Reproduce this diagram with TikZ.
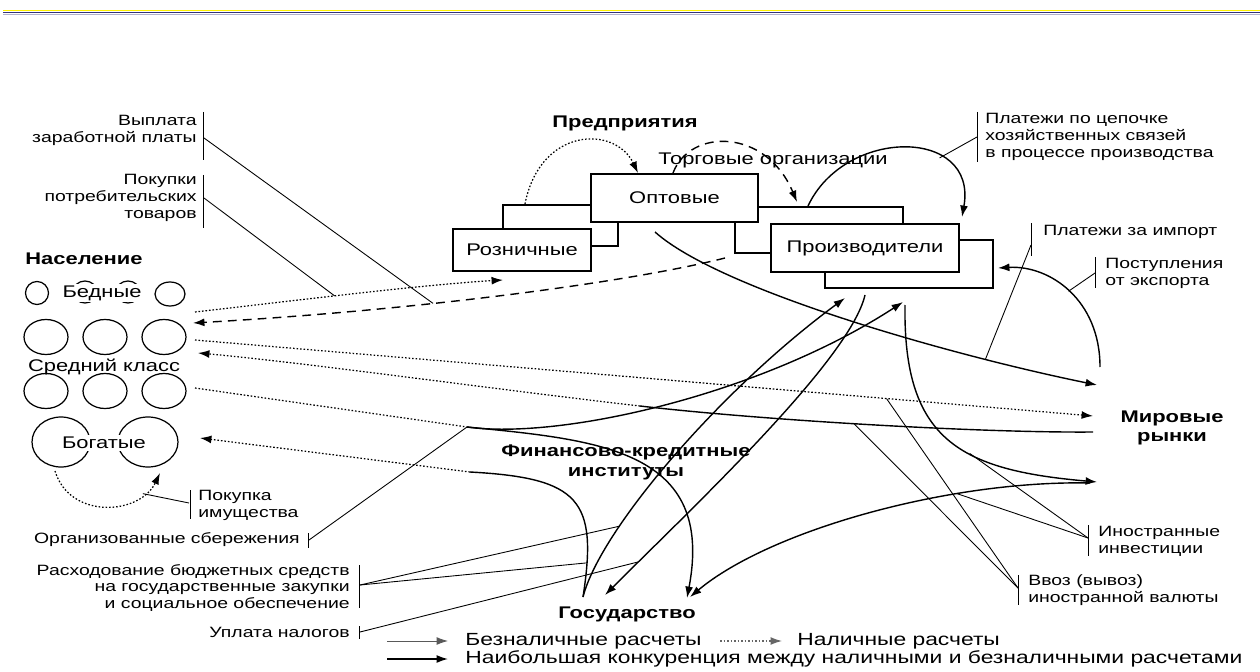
\documentclass[tikz,border=0pt]{standalone}
\usepackage{fontspec}
\setmainfont{Liberation Sans}[FakeStretch=1.3]
\usetikzlibrary{arrows.meta}
\begin{document}
\begin{tikzpicture}[x=0.02cm,y=-0.02cm,
  lbl/.style={font=\fontsize{8.5}{9.6}\selectfont, inner sep=0pt, align=right, anchor=east},
  lbll/.style={font=\fontsize{8.5}{9.6}\selectfont, inner sep=0pt, align=left, anchor=west},
  txt/.style={font=\fontsize{9.6}{11}\selectfont, inner sep=0pt},
  legtxt/.style={font=\fontsize{10}{11}\selectfont, inner sep=0pt, anchor=west},
  head/.style={font=\bfseries\fontsize{9.6}{11.3}\selectfont, inner sep=0pt, align=center},
  box/.style={draw, line width=0.9pt, fill=white, inner sep=0pt, font=\fontsize{9.6}{11}\selectfont},
  conn/.style={line width=0.8pt},
  lthin/.style={line width=0.5pt},
  cash/.style={line width=0.7pt, dash pattern=on 0.9pt off 1.1pt},
  dsh/.style={line width=0.8pt, dash pattern=on 5pt off 3.5pt},
  arr/.style={-{Latex[length=6.5pt,width=4.5pt]}},
  circ/.style={line width=0.7pt},
]
\useasboundingbox (0,0) rectangle (1260,672);
\fill[white] (0,0) rectangle (1260,672);
% top rules
\draw[yellow, line width=0.9pt] (3,10.5) -- (1260,10.5);
\draw[color=black!55!blue!60!gray, line width=0.6pt] (3,12.8) -- (1260,12.8);
\draw[color=blue!20!gray!50, line width=0.7pt] (3,14.3) -- (1260,14.3);

% ---------- enterprises ----------
\node[head] (predpr) at (625,123) {Предприятия};
\node[txt] (torg) at (773,160) {Торговые организации};
\node[box, minimum width=2.30cm, minimum height=0.82cm] (roznb) at (560.5,225.5) {};
\node[box, minimum width=2.76cm, minimum height=0.84cm] (rozn) at (522,250) {Розничные};
\node[box, minimum width=3.36cm, minimum height=0.92cm] (optb) at (819,230) {};
\node[box, minimum width=3.34cm, minimum height=0.96cm] (opt) at (674.5,198) {Оптовые};
\node[box, minimum width=3.36cm, minimum height=0.96cm] (proizvb) at (909,264) {};
\node[box, minimum width=3.76cm, minimum height=0.96cm] (proizv) at (865,248) {Производители};

% ---------- population ----------
\node[head, anchor=west] (naselenie) at (25,259) {Население};
\draw[circ] (37,293) ellipse [x radius=0.23cm, y radius=0.23cm];
\draw[circ] (85,292) ellipse [x radius=0.24cm, y radius=0.22cm];
\draw[circ] (128,292) ellipse [x radius=0.24cm, y radius=0.22cm];
\draw[circ] (170,294) ellipse [x radius=0.30cm, y radius=0.24cm];
\node[txt, fill=white, inner ysep=1pt] (bednye) at (102,293) {Бедные};
\foreach \cx in {46,105,164}{
  \draw[circ] (\cx,337) ellipse [x radius=0.44cm, y radius=0.35cm];
  \draw[circ] (\cx,391) ellipse [x radius=0.44cm, y radius=0.35cm];
}
\node[txt] (sredn) at (104,367) {Средний класс};
\draw[circ] (61,442) ellipse [x radius=0.58cm, y radius=0.50cm];
\draw[circ] (148,442) ellipse [x radius=0.60cm, y radius=0.50cm];
\node[txt, fill=white, inner ysep=1pt, inner xsep=1pt] (bogatye) at (104,443) {Богатые};

% ---------- other headings ----------
\node[head] (mir) at (1172,428) {Мировые\\рынки};
\node[head] (fin) at (626,462) {Финансово-кредитные\\институты};
\node[head] (gos) at (627,614) {Государство};

% ---------- coordinates ----------
\coordinate (popP1) at (195,312);
\coordinate (roznIn) at (503,280);
\coordinate (proizvOut) at (725,258);
\coordinate (popIn2) at (193,323);
\coordinate (popA) at (195,340);
\coordinate (mirA) at (1093,416);
\coordinate (mirB) at (1093,432);
\coordinate (Bm) at (640,406);
\coordinate (popB) at (198,353);
\coordinate (popC) at (195,388);
\coordinate (J) at (467,427);
\coordinate (proizvIn1) at (903,302);
\coordinate (gosIn1) at (687,598);
\coordinate (gosOut) at (583,597);
\coordinate (bogM) at (470,472);
\coordinate (bogIn) at (200,438);
\coordinate (proizvIn2) at (845,298);
\coordinate (proizvOut2) at (865,295);
\coordinate (gosIn2) at (605,595);
\coordinate (proizvOut3) at (905,305);
\coordinate (mirIn) at (1097,482);
\coordinate (mirOut) at (1090,483);
\coordinate (gosIn3) at (690,597);
\coordinate (optOut) at (655,232);
\coordinate (mirIn2) at (1097,385);
\coordinate (mirOut2) at (1100,367);
\coordinate (proizvIn3) at (998,268);
\coordinate (roznTop) at (525,204);
\coordinate (optIn) at (638,173);
\coordinate (optTop) at (673,173);
\coordinate (proizvIn4) at (797,202);
\coordinate (optbTop) at (808,206);
\coordinate (proizvIn5) at (962,217);
\coordinate (richL) at (55,471);
\coordinate (richR) at (160,473);

% ---------- loops among enterprises ----------
\draw[cash, arr] (roznTop) .. controls (540,127) and (615,125) .. (optIn);
\draw[dsh, arr] (optTop) .. controls (690,128) and (766,128) .. (proizvIn4);
\draw[conn, arr] (optbTop) .. controls (845,127) and (978,127) .. coordinate[pos=0.68] (chainT) (proizvIn5);

% ---------- population links ----------
\draw[cash, arr] (popP1) .. controls (300,300) and (420,285) .. coordinate[pos=0.43] (buyT) (roznIn);
\draw[dsh, arr] (proizvOut) .. controls (630,282) and (420,310) .. coordinate[pos=0.63] (wageT) (popIn2);
\draw[cash, arr] (popA) -- coordinate[pos=0.77] (fxT1) (mirA);
\draw[conn] (mirB) .. controls (980,433) and (760,420) .. coordinate[pos=0.53] (fxT2) (Bm);
\draw[cash, arr] (Bm) .. controls (500,390) and (300,362) .. (popB);
\draw[cash] (popC) -- (J);
\draw[conn, arr] (J) .. controls (560,440) and (760,395) .. (proizvIn1);
\draw[conn, arr] (J) .. controls (600,440) and (715,450) .. (gosIn1);
\draw[conn] (gosOut) .. controls (598,500) and (580,478) .. coordinate[pos=0.13] (budT2) (bogM);
\draw[cash, arr] (bogM) -- (bogIn);
\draw[cash, arr] (richL) .. controls (70,520) and (140,515) .. coordinate[pos=0.8] (richT) (richR);

% ---------- state / producers / world ----------
\draw[conn, arr] (gosOut) .. controls (600,530) and (720,390) .. coordinate[pos=0.28] (budT1) (proizvIn2);
\draw[conn, arr] (proizvOut2) .. controls (850,360) and (690,510) .. coordinate[pos=0.88] (taxT) (gosIn2);
\draw[conn, arr] (proizvOut3) .. controls (903,440) and (960,470) .. coordinate[pos=0.6] (invT1) (mirIn);
\draw[conn, arr] (mirOut) .. controls (950,480) and (770,530) .. coordinate[pos=0.3] (invT2) (gosIn3);
\draw[conn, arr] (optOut) .. controls (720,290) and (950,355) .. coordinate[pos=0.77] (impT) (mirIn2);
\draw[conn, arr] (mirOut2) .. controls (1100,300) and (1050,265) .. coordinate[pos=0.5] (expT) (proizvIn3);

% ---------- labels with brackets ----------
\node[lbl] (l-wage) at (197,130) {Выплата\\заработной платы};
\draw[lthin] (203,112) -- (203,160);
\coordinate (b-wage) at (204,138);
\draw[lthin] (b-wage) -- (wageT);

\node[lbl] (l-buy) at (197,198) {Покупки\\потребительских\\товаров};
\draw[lthin] (203,175) -- (203,228);
\coordinate (b-buy) at (204,198);
\draw[lthin] (b-buy) -- (buyT);

\node[lbll] (l-prop) at (198,505) {Покупка\\имущества};
\draw[lthin] (190,490) -- (190,519);
\coordinate (b-prop) at (189,503);
\draw[lthin] (b-prop) -- (richT);

\node[lbl] (l-sav) at (300,540) {Организованные сбережения};
\draw[lthin] (308,533) -- (308,548);
\coordinate (b-sav) at (309,540);
\draw[lthin] (b-sav) -- (J);

\node[lbl] (l-bud) at (350,588) {Расходование бюджетных средств\\на государственные закупки\\и социальное обеспечение};
\draw[lthin] (359,565) -- (359,608);
\coordinate (b-bud) at (360,585);
\draw[lthin] (b-bud) -- (budT1);
\draw[lthin] (b-bud) -- (budT2);

\node[lbl] (l-tax) at (350,632) {Уплата налогов};
\draw[lthin] (359,626) -- (359,639);
\coordinate (b-tax) at (360,632);
\draw[lthin] (b-tax) -- (taxT);

\node[lbll] (l-chain) at (985,137) {Платежи по цепочке\\хозяйственных связей\\в процессе производства};
\draw[lthin] (977,112) -- (977,162);
\coordinate (b-chain) at (977,137);
\draw[lthin] (b-chain) -- (chainT);

\node[lbll] (l-imp) at (1043,232) {Платежи за импорт};
\draw[lthin] (1031,223) -- (1031,256);
\coordinate (b-imp) at (1031,245);
\draw[lthin] (b-imp) -- (impT);

\node[lbll] (l-exp) at (1105,273) {Поступления\\от экспорта};
\draw[lthin] (1095,257) -- (1095,288);
\coordinate (b-exp) at (1095,273);
\draw[lthin] (b-exp) -- (expT);

\node[lbll] (l-inv) at (1098,541) {Иностранные\\инвестиции};
\draw[lthin] (1088,525) -- (1088,556);
\coordinate (b-inv) at (1088,538);
\draw[lthin] (b-inv) -- (invT1);
\draw[lthin] (b-inv) -- (invT2);

\node[lbll] (l-fx) at (1028,590) {Ввоз (вывоз)\\иностранной валюты};
\draw[lthin] (1018,575) -- (1018,605);
\coordinate (b-fx) at (1018,588);
\draw[lthin] (b-fx) -- (fxT1);
\draw[lthin] (b-fx) -- (fxT2);

% ---------- legend ----------
\coordinate (lg1a) at (387,641); \coordinate (lg1b) at (448,641);
\coordinate (lg2a) at (720,641); \coordinate (lg2b) at (782,641);
\coordinate (lg3a) at (387,659); \coordinate (lg3b) at (448,659);
\draw[lthin, black!65, arr] (lg1a) -- (lg1b);
\node[legtxt] (leg1) at (465,641) {Безналичные расчеты};
\draw[cash, black!60, arr] (lg2a) -- (lg2b);
\node[legtxt] (leg2) at (797,641) {Наличные расчеты};
\draw[conn, arr] (lg3a) -- (lg3b);
\node[legtxt] (leg3) at (465,659) {Наибольшая конкуренция между наличными и безналичными расчетами};
\end{tikzpicture}
\end{document}
